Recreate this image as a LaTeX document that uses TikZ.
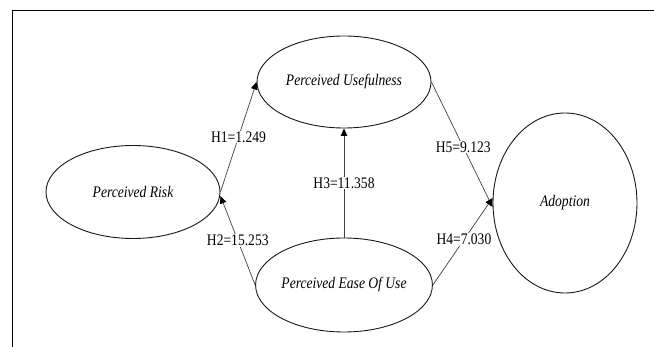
\documentclass[tikz,border=0pt]{standalone}
\usepackage{fontspec}
\usepackage{graphicx}
\setmainfont{Liberation Serif}
\usetikzlibrary{arrows.meta,shapes.geometric}
\newcommand\talltext[1]{\scalebox{0.97}[1.15]{#1}}
\begin{document}
\begin{tikzpicture}[x=1pt,y=-1pt,
  construct/.style={draw=black!90,line width=0.9pt,ellipse,inner sep=0pt,font=\fontsize{14}{16}\selectfont\itshape},
  link/.style={draw=black!75,line width=0.7pt,-{Triangle[length=7.5pt,width=6.5pt,color=black]}},
  hlabel/.style={fill=white,inner sep=1pt,font=\fontsize{14}{16}\selectfont,pos=0.5}]
\useasboundingbox (0,0) rectangle (654,347);
\draw[line width=1pt] (12,347) -- (12,11) -- (654,11);
\node[construct,minimum width=174pt,minimum height=92pt] (pu) at (344,82) {\talltext{Perceived Usefulness}};
\node[construct,minimum width=174pt,minimum height=93pt] (pr) at (133,192) {\talltext{Perceived Risk}};
\node[construct,minimum width=175pt,minimum height=94pt] (pe) at (344,285) {\talltext{Perceived Ease Of Use}};
\node[construct,minimum width=144pt,minimum height=180pt] (ad) at (565,203) {\talltext{Adoption}};
\path[link] (pr.east) -- node[hlabel]{\talltext{H1=1.249}} (pu.west);
\path[link] (pe.west) -- node[hlabel]{\talltext{H2=15.253}} ([yshift=-4pt]pr.east);
\path[link] (pe.north) -- node[hlabel]{\talltext{H3=11.358}} (pu.south);
\path[link] (pu.east) -- node[hlabel,pos=0.52]{\talltext{H5=9.123}} ([yshift=-4pt]ad.west);
\path[link] (pe.east) -- node[hlabel,pos=0.52]{\talltext{H4=7.030}} ([yshift=5pt]ad.west);
\end{tikzpicture}
\end{document}
